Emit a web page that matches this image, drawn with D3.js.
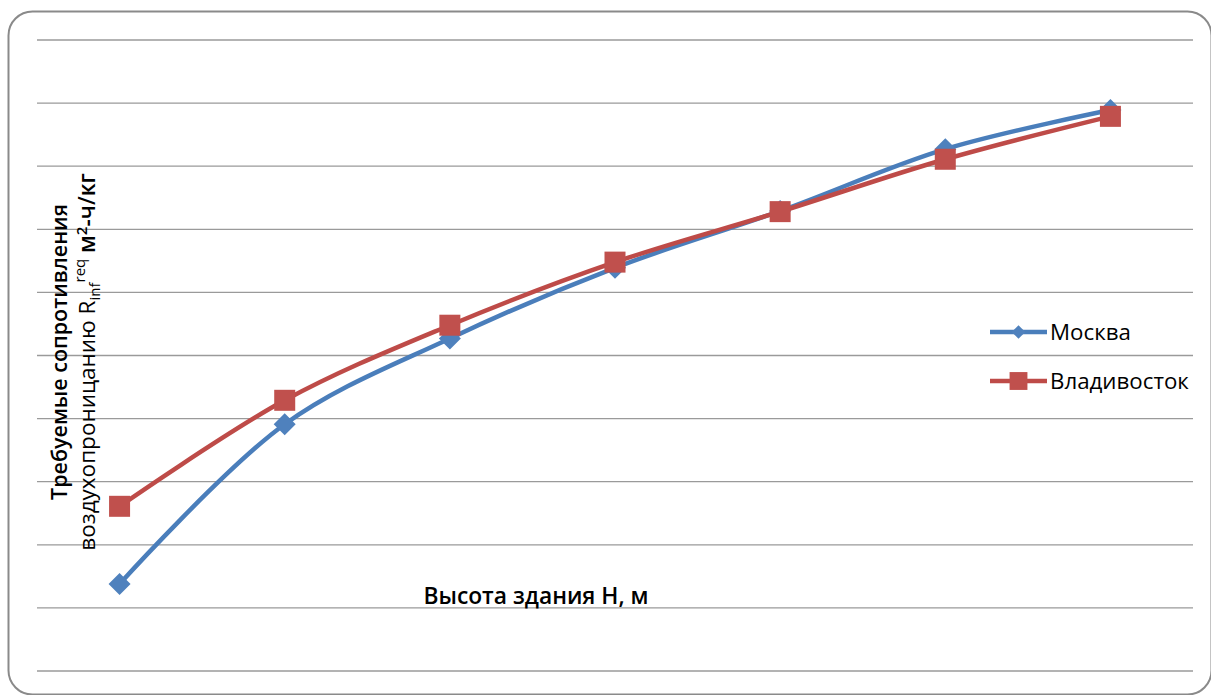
<!DOCTYPE html>
<html>
<head>
<meta charset="utf-8">
<script src="https://cdn.jsdelivr.net/npm/d3@7"></script>
<style>
  html, body { margin: 0; padding: 0; background: #fff; }
  svg { display: block; }
  text { font-family: "Open Sans", "Noto Sans", sans-serif; fill: #000; }
</style>
</head>
<body>
<svg id="chart" width="1211" height="695"></svg>
<script>
// Building heights (category positions along the horizontal axis)
const heights = ["1", "2", "3", "4", "5", "6", "7"];
// Required air-permeability resistance, in gridline units
const moscow      = [1.38, 3.91, 5.27, 6.39, 7.29, 8.27, 8.89];
const vladivostok = [2.61, 4.29, 5.48, 6.48, 7.28, 8.11, 8.79];
const seriesNames = ["Москва", "Владивосток"];
const yTicks = [0, 1, 2, 3, 4, 5, 6, 7, 8, 9, 10];

const svg = d3.select("#chart");

// Rounded frame around the chart
svg.append("rect")
  .attr("x", 8.5).attr("y", 11.5)
  .attr("width", 1203).attr("height", 683)
  .attr("rx", 24).attr("ry", 24)
  .attr("fill", "none")
  .attr("stroke", "#8a8a8a")
  .attr("stroke-width", 2);

const plot = { left: 37, right: 1193, top: 40, bottom: 671 };

const x = d3.scaleBand().domain(heights)
  .range([plot.left, plot.right]).paddingInner(0).paddingOuter(0);
const y = d3.scaleLinear().domain([0, 10]).range([plot.bottom, plot.top]);
const cx = d => x(d) + x.bandwidth() / 2;

// Horizontal gridlines
svg.append("g").selectAll("line").data(yTicks).join("line")
  .attr("x1", plot.left).attr("x2", plot.right)
  .attr("y1", d => y(d)).attr("y2", d => y(d))
  .attr("stroke", "#9a9a9a").attr("stroke-width", 1.3);

const blue = "#4A7EBB", blueMark = "#4F81BD";
const red = "#BE4B48", redMark = "#C0504D";

const line = d3.line()
  .x((d, i) => cx(heights[i]))
  .y(d => y(d))
  .curve(d3.curveCatmullRom.alpha(0.5));

function drawSeries(values, stroke, fill, marker) {
  svg.append("path").datum(values)
    .attr("d", line)
    .attr("fill", "none")
    .attr("stroke", stroke)
    .attr("stroke-width", 4.5)
    .attr("stroke-linejoin", "round");
  const g = svg.append("g");
  values.forEach((v, i) => marker(g, cx(heights[i]), y(v), fill, 1));
}

function diamond(g, px, py, fill, k) {
  const s = 11 * k;
  g.append("path")
    .attr("d", `M${px},${py - s}L${px + s},${py}L${px},${py + s}L${px - s},${py}Z`)
    .attr("fill", fill);
}
function square(g, px, py, fill, k) {
  const s = 10.5 * k;
  g.append("rect")
    .attr("x", px - s).attr("y", py - s)
    .attr("width", 2 * s).attr("height", 2 * s)
    .attr("fill", fill);
}

drawSeries(moscow, blue, blueMark, diamond);
drawSeries(vladivostok, red, redMark, square);

// Legend
const legend = [
  { name: seriesNames[0], stroke: blue, fill: blueMark, marker: diamond, k: 0.62, y: 332 },
  { name: seriesNames[1], stroke: red, fill: redMark, marker: square, k: 0.85, y: 381 }
];
legend.forEach(d => {
  const g = svg.append("g");
  g.append("line").attr("x1", 990).attr("x2", 1047)
    .attr("y1", d.y).attr("y2", d.y)
    .attr("stroke", d.stroke).attr("stroke-width", 4.5);
  d.marker(g, 1018.5, d.y, d.fill, d.k);
  g.append("text").attr("x", 1050).attr("y", d.y + 7.5)
    .attr("font-size", 22.3).text(d.name);
});

// Axis titles
svg.append("text")
  .attr("x", 536).attr("y", 604)
  .attr("text-anchor", "middle")
  .attr("font-size", 22.8).attr("font-weight", 600)
  .text("Высота здания Н, м");

const yt = svg.append("g").attr("transform", "rotate(-90)");
yt.append("text")
  .attr("x", -352).attr("y", 67)
  .attr("text-anchor", "middle")
  .attr("font-size", 21.5).attr("font-weight", 600)
  .text("Требуемые сопротивления");
const t2 = yt.append("text")
  .attr("x", -362).attr("y", 95)
  .attr("text-anchor", "middle")
  .attr("font-size", 22.5);
t2.append("tspan").text("воздухопроницанию R");
t2.append("tspan").attr("font-size", 15).attr("dy", 5).text("inf");
t2.append("tspan").attr("font-size", 15).attr("dy", -15).text("req");
t2.append("tspan").attr("dy", 10).attr("font-weight", 600).text(" м");
t2.append("tspan").attr("font-size", 15).attr("dy", -8).attr("font-weight", 600).text("2");
t2.append("tspan").attr("dy", 8).attr("font-weight", 600).text("-ч/кг");
</script>
</body>
</html>
